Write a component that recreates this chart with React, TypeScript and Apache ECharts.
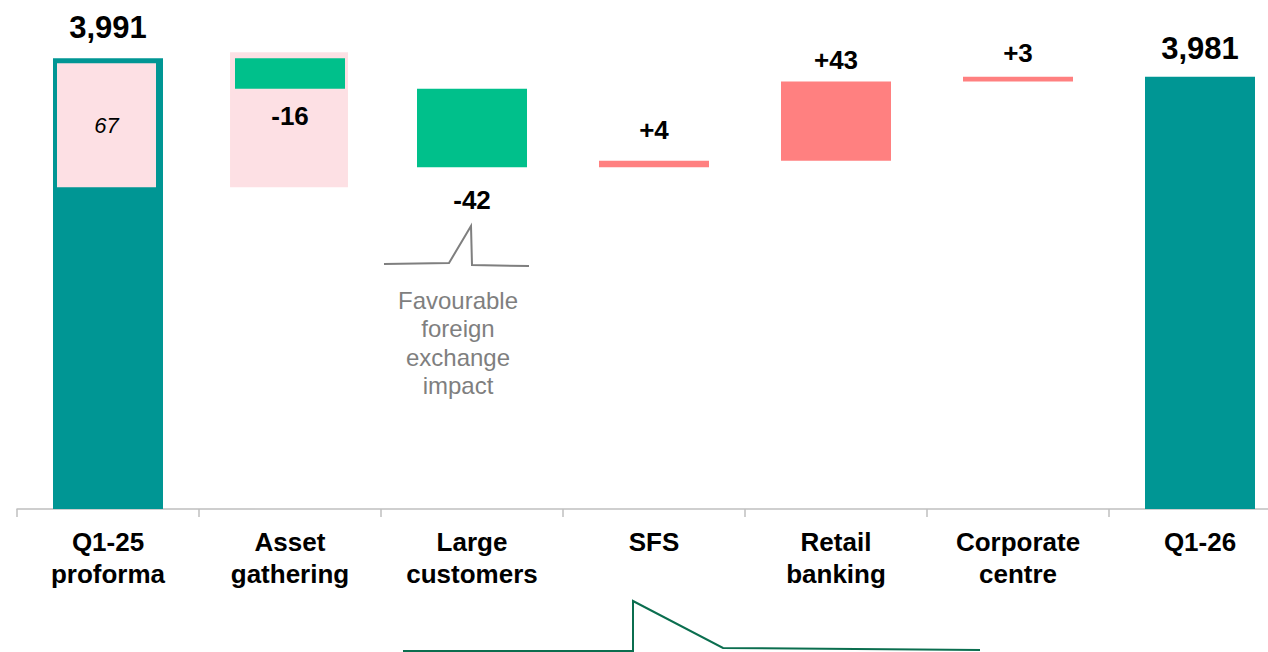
import React, { useEffect, useRef } from "react";
import * as echarts from "echarts";

const categories = [
  "Q1-25\nproforma",
  "Asset\ngathering",
  "Large\ncustomers",
  "SFS",
  "Retail\nbanking",
  "Corporate\ncentre",
  "Q1-26",
];
const totals: (number | null)[] = [3991, null, null, null, null, null, 3981];
const changes: (number | null)[] = [null, -16.4, -42.4, 3.6, 42.6, 2.6, null];
const valueLabels = ["3,991", "-16", "-42", "+4", "+43", "+3", "3,981"];
const fxBoxes = [
  { category: 0, high: 3988.3, low: 3921.5, label: "67" },
  { category: 1, high: 3994.2, low: 3921.5, label: "" },
];
const fxNote = "Favourable\nforeign\nexchange\nimpact";

const FONT = "'Liberation Sans', Arial, sans-serif";
const TEAL = "#009694";
const GREEN = "#00c08b";
const SALMON = "#ff8080";
const PINK = "#fde0e4";

export default function App() {
  const ref = useRef<HTMLDivElement>(null);

  useEffect(() => {
    if (!ref.current) return;
    const chart = echarts.init(ref.current, null, { renderer: "svg" });

    // waterfall construction
    const base: (number | string)[] = [];
    const up: (number | string)[] = [];
    const down: (number | string)[] = [];
    const tot: (number | string)[] = [];
    let running = 0;
    categories.forEach((_, i) => {
      const t = totals[i];
      const c = changes[i];
      if (t != null) {
        running = t;
        base.push("-");
        up.push("-");
        down.push("-");
        tot.push(t);
      } else if (c != null) {
        const after = running + c;
        base.push(Math.min(running, after));
        if (c >= 0) {
          up.push(c);
          down.push("-");
        } else {
          down.push(-c);
          up.push("-");
        }
        tot.push("-");
        running = after;
      }
    });

    const labelDistance = [15, 14, 20, 18, 9, 11, 13];
    const valueFont = (i: number) => (totals[i] != null ? 31 : 26);

    const mkLabel = (pos: string) => ({
      show: true,
      position: pos,
      fontFamily: FONT,
      fontWeight: "bold",
      color: "#000",
      formatter: (p: any) => valueLabels[p.dataIndex],
    });

    const withItemLabels = (arr: (number | string)[]) =>
      arr.map((v, i) =>
        v === "-"
          ? v
          : {
              value: v,
              label: {
                distance: labelDistance[i],
                fontSize: valueFont(i),
                lineHeight: valueFont(i),
              },
            }
      );

    const boxWidthRatio = [0.544, 0.648];
    const boxOffset = [-1.5, -1];

    const boxSeries = fxBoxes.map((b, k) => ({
      type: "custom",
      z: b.category === 0 ? 5 : 1,
      silent: true,
      data: [[b.category, b.high, b.low]],
      renderItem: (params: any, api: any) => {
        const top = api.coord([api.value(0), api.value(1)]);
        const bottom = api.coord([api.value(0), api.value(2)]);
        const band = api.size([1, 0])[0];
        const w = band * boxWidthRatio[k];
        const cx = top[0] + boxOffset[k];
        const children: any[] = [
          {
            type: "rect",
            shape: { x: cx - w / 2, y: top[1], width: w, height: bottom[1] - top[1] },
            style: { fill: PINK },
          },
        ];
        if (b.label) {
          children.push({
            type: "text",
            style: {
              text: b.label,
              x: cx,
              y: (top[1] + bottom[1]) / 2,
              align: "center",
              verticalAlign: "middle",
              fontFamily: FONT,
              fontStyle: "italic",
              fontSize: 22,
              fill: "#000",
            },
          });
        }
        return { type: "group", children };
      },
    }));

    chart.setOption({
      animation: false,
      grid: { left: 17, right: 0, top: 23, bottom: 143, containLabel: false },
      xAxis: {
        type: "category",
        data: categories,
        axisLine: { show: true, lineStyle: { color: "#bfbfbf", width: 1.5 } },
        axisTick: { show: true, length: 8, lineStyle: { color: "#bfbfbf", width: 1.5 } },
        axisLabel: {
          interval: 0,
          margin: 17,
          fontFamily: FONT,
          fontWeight: "bold",
          fontSize: 26,
          lineHeight: 32,
          color: "#000",
          verticalAlign: "top",
        },
        splitLine: { show: false },
      },
      yAxis: {
        type: "value",
        min: 3748,
        max: 4010,
        show: false,
        splitLine: { show: false },
      },
      series: [
        {
          type: "bar",
          stack: "wf",
          barWidth: 110,
          z: 2,
          silent: true,
          itemStyle: { color: "transparent" },
          data: base,
        },
        {
          type: "bar",
          stack: "wf",
          barWidth: 110,
          z: 2,
          itemStyle: { color: GREEN },
          label: mkLabel("bottom"),
          data: withItemLabels(down),
        },
        {
          type: "bar",
          stack: "wf",
          barWidth: 110,
          z: 2,
          itemStyle: { color: SALMON },
          label: mkLabel("top"),
          data: withItemLabels(up),
        },
        {
          type: "bar",
          stack: "wf",
          barWidth: 110,
          z: 2,
          itemStyle: { color: TEAL },
          label: mkLabel("top"),
          data: withItemLabels(tot),
        },
        ...boxSeries,
      ],
      graphic: [
        {
          type: "polyline",
          silent: true,
          shape: {
            points: [
              [384, 264],
              [449, 263],
              [471, 226],
              [472, 265],
              [529, 266],
            ],
          },
          style: { stroke: "#7f7f7f", lineWidth: 2, fill: "none" },
        },
        {
          type: "text",
          silent: true,
          x: 458,
          y: 286,
          style: {
            text: fxNote,
            align: "center",
            verticalAlign: "top",
            fontFamily: FONT,
            fontSize: 24,
            lineHeight: 28.5,
            fill: "#7f7f7f",
          },
        },
        {
          type: "polyline",
          silent: true,
          shape: {
            points: [
              [403, 651],
              [633, 651],
              [633, 601],
              [723, 648],
              [980, 650],
            ],
          },
          style: { stroke: "#0b6e4f", lineWidth: 2, fill: "none" },
        },
      ],
    });

    return () => chart.dispose();
  }, []);

  return (
    <div
      style={{
        position: "fixed",
        left: 0,
        top: 0,
        width: 1268,
        height: 652,
        overflow: "hidden",
        background: "#fff",
      }}
    >
      <div ref={ref} style={{ width: 1291, height: 652 }} />
    </div>
  );
}
